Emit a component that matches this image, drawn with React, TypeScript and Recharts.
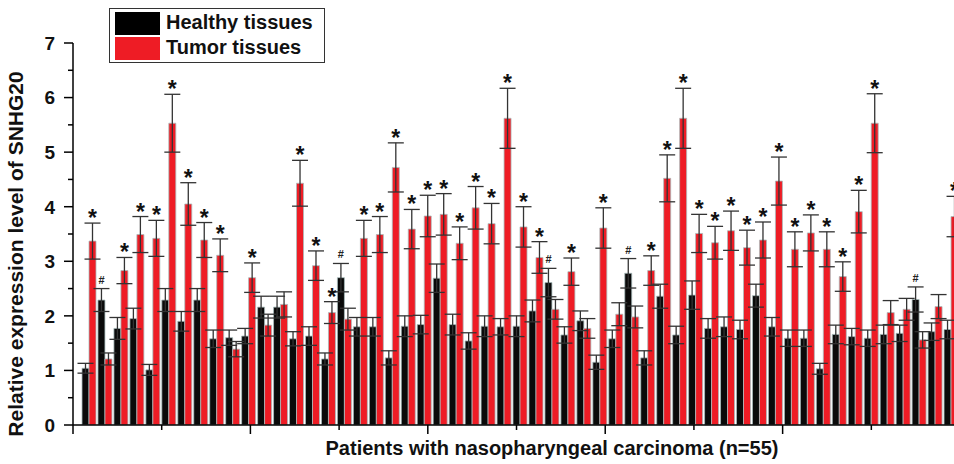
// SNHG20 expression per patient — healthy vs tumor tissues, grouped bars with SD error bars
import { ComposedChart, Bar, ErrorBar, XAxis, YAxis, Legend, LabelList } from 'recharts'

const patients = Array.from({ length: 55 }, (_, i) => i + 1)

const healthy = [
  1.04, 2.29, 1.77, 1.95, 1.01, 2.29, 1.9, 2.29, 1.58, 1.6,
  1.63, 2.16, 2.16, 1.58, 1.63, 1.21, 2.7, 1.8, 1.8, 1.23,
  1.81, 1.84, 2.69, 1.84, 1.54, 1.81, 1.8, 1.81, 2.09, 2.61,
  1.65, 1.91, 1.15, 1.58, 2.78, 1.23, 2.36, 1.65, 2.38, 1.77,
  1.8, 1.75, 2.37, 1.8, 1.59, 1.59, 1.03, 1.66, 1.62, 1.59,
  1.66, 1.68, 2.3, 1.71, 1.75,
]
const healthyErr = [
  0.09, 0.21, 0.2, 0.19, 0.1, 0.21, 0.18, 0.21, 0.16, 0.14,
  0.14, 0.2, 0.2, 0.13, 0.17, 0.11, 0.26, 0.17, 0.17, 0.13,
  0.19, 0.17, 0.26, 0.19, 0.15, 0.19, 0.15, 0.19, 0.2, 0.26,
  0.15, 0.18, 0.13, 0.16, 0.27, 0.13, 0.22, 0.16, 0.26, 0.18,
  0.18, 0.17, 0.21, 0.17, 0.15, 0.15, 0.1, 0.17, 0.15, 0.15,
  0.17, 0.15, 0.23, 0.16, 0.17,
]
const tumor = [
  3.37, 1.21, 2.83, 3.49, 3.42, 5.53, 4.05, 3.39, 3.11, 1.39,
  2.7, 1.83, 2.21, 4.43, 2.92, 2.06, 1.94, 3.42, 3.49, 4.72,
  3.59, 3.83, 3.86, 3.33, 3.98, 3.69, 5.62, 3.63, 3.07, 2.12,
  2.81, 1.77, 3.61, 2.03, 1.98, 2.83, 4.52, 5.62, 3.51, 3.34,
  3.56, 3.25, 3.39, 4.47, 3.22, 3.52, 3.22, 2.72, 3.91, 5.53,
  2.06, 2.12, 1.56, 2.17, 3.82,
]
const tumorErr = [
  0.33, 0.11, 0.24, 0.33, 0.33, 0.53, 0.39, 0.32, 0.3, 0.14,
  0.27, 0.2, 0.23, 0.42, 0.27, 0.2, 0.2, 0.33, 0.33, 0.45,
  0.36, 0.38, 0.38, 0.3, 0.39, 0.37, 0.55, 0.37, 0.29, 0.18,
  0.25, 0.18, 0.37, 0.21, 0.2, 0.27, 0.43, 0.55, 0.35, 0.3,
  0.36, 0.32, 0.33, 0.44, 0.32, 0.33, 0.32, 0.27, 0.39, 0.54,
  0.22, 0.2, 0.15, 0.22, 0.37,
]
// '#' marks on healthy bars, '*' marks on tumor bars
const hashPatients = [2, 17, 30, 35, 53]
const noStarPatients = [2, 10, 12, 13, 17, 30, 32, 34, 35, 51, 52, 53, 54]

const yTicks = [0, 0.5, 1, 1.5, 2, 2.5, 3, 3.5, 4, 4.5, 5, 5.5, 6, 6.5, 7]
const xTicks = [0, 5, 10, 15, 20, 25, 30, 35, 40, 45, 50, 55]

const data = patients.map((p, i) => ({
  patient: p,
  healthy: healthy[i],
  healthyErr: healthyErr[i],
  tumor: tumor[i],
  tumorErr: tumorErr[i],
  hMark: hashPatients.includes(p) ? '#' : '',
  tMark: noStarPatients.includes(p) ? '' : '*',
}))

const FONT = '"Liberation Sans", Arial, sans-serif'

function markRenderer(valueKey: 'healthy' | 'tumor', errKey: 'healthyErr' | 'tumorErr') {
  return (props: any) => {
    const { x, y, width, height, index, value } = props
    if (!value) return null
    const row = data[index]
    const ppu = height / row[valueKey]
    const cap = y - row[errKey] * ppu
    const cx = x + width / 2
    if (value === '#') {
      return (
        <text x={cx} y={cap - 5} textAnchor="middle" fontFamily={FONT} fontWeight="bold" fontSize={11} fill="#222">
          #
        </text>
      )
    }
    return (
      <text x={cx} y={cap + 3} textAnchor="middle" fontFamily={FONT} fontWeight="bold" fontSize={23} fill="#111">
        *
      </text>
    )
  }
}

const YTick = (props: any) => {
  const { x, y, payload } = props
  const major = Number.isInteger(payload.value)
  return (
    <g>
      <line x1={x} y1={y} x2={x - (major ? 9 : 5)} y2={y} stroke="#000" strokeWidth={1.5} />
      {major && (
        <text x={x - 18} y={y} dy="0.36em" textAnchor="end" fontFamily={FONT} fontWeight="bold" fontSize={19} fill="#111">
          {payload.value}
        </text>
      )}
    </g>
  )
}

const XTick = (props: any) => {
  const { x, y, payload } = props
  const major = payload.value % 10 === 0
  return <line x1={x} y1={y} x2={x} y2={y + (major ? 9 : 5)} stroke="#000" strokeWidth={1.5} />
}

const LegendBox = () => (
  <div
    style={{
      position: 'relative',
      width: 216,
      height: 55,
      boxSizing: 'border-box',
      border: '1.5px solid #333',
      background: '#fff',
      fontFamily: FONT,
      fontWeight: 'bold',
      fontSize: 20,
      color: '#111',
    }}
  >
    <div style={{ position: 'absolute', left: 5, top: 3, width: 45, height: 23, background: '#000' }} />
    <div style={{ position: 'absolute', left: 5, top: 28, width: 45, height: 23, background: '#ee1c25' }} />
    <div style={{ position: 'absolute', left: 56, top: 1, lineHeight: '24px' }}>Healthy tissues</div>
    <div style={{ position: 'absolute', left: 56, top: 26, lineHeight: '24px' }}>Tumor tissues</div>
  </div>
)

export default function App() {
  return (
    <div style={{ position: 'fixed', left: 0, top: 0, width: 954, height: 464, overflow: 'hidden', background: '#fff' }}>
      <ComposedChart
        width={1031}
        height={464}
        data={data}
        margin={{ top: 43, right: 0, bottom: 0, left: 0 }}
        barGap={0}
      >
        <XAxis xAxisId="cat" dataKey="patient" hide height={0} padding={{ left: 8, right: 72 }} />
        <XAxis
          xAxisId="num"
          type="number"
          domain={[0, 60]}
          ticks={xTicks}
          interval={0}
          allowDataOverflow
          height={39}
          tickSize={0}
          tickMargin={0}
          tickLine={false}
          axisLine={{ stroke: '#000', strokeWidth: 1.5 }}
          tick={<XTick />}
          label={{
            value: 'Patients with nasopharyngeal carcinoma (n=55)',
            position: 'insideBottom',
            offset: 9,
            style: { fontFamily: FONT, fontWeight: 'bold', fontSize: 20, fill: '#111' },
          }}
        />
        <YAxis
          domain={[0, 7]}
          ticks={yTicks}
          interval={0}
          allowDataOverflow
          width={73}
          tickSize={0}
          tickMargin={0}
          tickLine={false}
          axisLine={{ stroke: '#000', strokeWidth: 1.5 }}
          tick={<YTick />}
          label={{
            value: 'Relative expression level of SNHG20',
            angle: -90,
            position: 'insideLeft',
            dx: 11,
            dy: 20,
            style: { textAnchor: 'middle', fontFamily: FONT, fontWeight: 'bold', fontSize: 21, fill: '#111' },
          }}
        />
        <Legend
          layout="vertical"
          align="center"
          verticalAlign="middle"
          content={<LegendBox />}
          wrapperStyle={{ left: 109, top: 8, width: 216, height: 55 }}
        />
        <Bar
          xAxisId="cat"
          dataKey="healthy"
          name="Healthy tissues"
          barSize={7}
          fill="#0a0a0a"
          stroke="#a9bcbc"
          strokeWidth={0.8}
          isAnimationActive={false}
        >
          <ErrorBar dataKey="healthyErr" width={8} stroke="#333" strokeWidth={1.3} direction="y" />
          <LabelList dataKey="hMark" content={markRenderer('healthy', 'healthyErr')} />
        </Bar>
        <Bar
          xAxisId="cat"
          dataKey="tumor"
          name="Tumor tissues"
          barSize={7}
          fill="#ee1c25"
          stroke="#a9bcbc"
          strokeWidth={0.8}
          isAnimationActive={false}
        >
          <ErrorBar dataKey="tumorErr" width={8} stroke="#333" strokeWidth={1.3} direction="y" />
          <LabelList dataKey="tMark" content={markRenderer('tumor', 'tumorErr')} />
        </Bar>
      </ComposedChart>
    </div>
  )
}
